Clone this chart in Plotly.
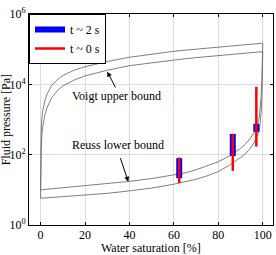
import plotly.graph_objects as go

# ---- data ----
# Water saturation [%] samples for the bound curves
sat_upper = [0, 0.1, 0.3, 0.6, 1, 2, 3, 5, 8, 10, 15, 20, 30, 40, 50, 60, 70, 80, 90, 100]
# log10(Fluid pressure [Pa]) along the two Voigt (upper) curves
voigt_a_log = [1.0, 2.2, 2.7, 3.05, 3.25, 3.55, 3.73, 3.97, 4.16, 4.25, 4.4, 4.5, 4.65, 4.77, 4.86, 4.94, 5.0, 5.06, 5.12, 5.17]
voigt_b_log = [0.76, 1.7, 2.2, 2.55, 2.8, 3.15, 3.35, 3.62, 3.85, 3.95, 4.12, 4.24, 4.4, 4.53, 4.62, 4.69, 4.76, 4.82, 4.88, 4.93]

sat_lower = [0, 10, 20, 30, 40, 50, 60, 65, 70, 75, 80, 85, 88, 90, 92, 94, 96, 97, 98, 98.5, 99, 99.3, 99.6, 99.8, 100]
# log10(Fluid pressure [Pa]) along the two Reuss (lower) curves
reuss_a_log = [1.0, 1.06, 1.11, 1.17, 1.24, 1.32, 1.42, 1.48, 1.57, 1.68, 1.8, 1.96, 2.08, 2.18, 2.29, 2.43, 2.62, 2.76, 2.95, 3.1, 3.4, 3.7, 4.1, 4.55, 5.17]
reuss_b_log = [0.76, 0.8, 0.85, 0.9, 0.97, 1.05, 1.16, 1.22, 1.3, 1.4, 1.52, 1.7, 1.82, 1.92, 2.02, 2.15, 2.33, 2.45, 2.6, 2.72, 2.95, 3.2, 3.6, 4.05, 4.93]

# measured pressure ranges (log10 Pa) at three saturations
meas_sat = [62.4, 86.5, 97.1]
t2_low_log = [1.33, 1.96, 2.65]
t2_high_log = [1.90, 2.59, 2.88]
t0_low_log = [1.19, 1.54, 2.23]
t0_high_log = [1.92, 2.59, 3.93]

x_ticks = [0, 20, 40, 60, 80, 100]
y_tick_exp = [0, 2, 4, 6]

FONT = "Liberation Serif, Times New Roman, serif"
CURVE = "#707070"

def to_pa(logs):
    return [10 ** v for v in logs]

def segments(xs, lows, highs):
    X, Y = [], []
    for x, lo, hi in zip(xs, lows, highs):
        X += [x, x, None]
        Y += [10 ** lo, 10 ** hi, None]
    return X, Y

fig = go.Figure()
for xs, ys in [(sat_upper, voigt_a_log), (sat_upper, voigt_b_log),
               (sat_lower, reuss_a_log), (sat_lower, reuss_b_log)]:
    fig.add_trace(go.Scatter(x=xs, y=to_pa(ys), mode="lines",
                             line=dict(color=CURVE, width=0.9), showlegend=False,
                             hoverinfo="skip"))

bx, by = segments(meas_sat, t2_low_log, t2_high_log)
fig.add_trace(go.Scatter(x=bx, y=by, mode="lines", name="t ~ 2 s",
                         line=dict(color="#0000ff", width=6)))
rx, ry = segments(meas_sat, t0_low_log, t0_high_log)
fig.add_trace(go.Scatter(x=rx, y=ry, mode="lines", name="t ~ 0 s",
                         line=dict(color="#ff0000", width=2.5)))

axis_common = dict(showline=True, linecolor="black", linewidth=1, mirror="ticks",
                   ticks="inside", ticklen=3, tickcolor="black",
                   showgrid=True, gridcolor="#dcdcdc", gridwidth=1, zeroline=False,
                   tickfont=dict(family=FONT, size=12, color="black"))

fig.update_xaxes(range=[-5.2, 104.6], tickvals=x_ticks, ticklabelstandoff=-1,
                 **axis_common)
fig.update_yaxes(type="log", range=[0, 6],
                 tickvals=[10 ** e for e in y_tick_exp],
                 ticktext=["10<sup>%d</sup>" % e for e in y_tick_exp],
                 **axis_common)

ann = []
ann.append(dict(x=13.2, y=3.67, xref="x", yref="y", text="Voigt upper bound",
                showarrow=False, xanchor="left", yanchor="middle",
                font=dict(family=FONT, size=12, color="black")))
ann.append(dict(x=13.2, y=2.27, xref="x", yref="y", text="Reuss lower bound",
                showarrow=False, xanchor="left", yanchor="middle",
                font=dict(family=FONT, size=12, color="black")))
ann.append(dict(x=30.0, y=4.36, xref="x", yref="y", ax=34.1, ay=3.87,
                axref="x", ayref="y", text="", showarrow=True,
                arrowhead=2, arrowsize=1, arrowwidth=1, arrowcolor="black"))
ann.append(dict(x=39.5, y=1.23, xref="x", yref="y", ax=35.7, ay=1.94,
                axref="x", ayref="y", text="", showarrow=True,
                arrowhead=2, arrowsize=1, arrowwidth=1, arrowcolor="black"))
ann.append(dict(x=0.5, y=0, xref="paper", yref="paper", yshift=-23,
                text="Water saturation [%]", showarrow=False,
                xanchor="center", yanchor="middle",
                font=dict(family=FONT, size=12, color="black")))
ann.append(dict(x=-0.095, y=0.5, xref="paper", yref="paper",
                text="Fluid pressure [Pa]", showarrow=False, textangle=-90,
                xanchor="center", yanchor="middle",
                font=dict(family=FONT, size=12, color="black")))

fig.update_layout(
    width=276, height=255,
    margin=dict(l=29, r=3, t=14, b=30),
    paper_bgcolor="white", plot_bgcolor="white",
    annotations=ann,
    legend=dict(x=0, y=1, xanchor="left", yanchor="top",
                bgcolor="white", bordercolor="black", borderwidth=1,
                font=dict(family=FONT, size=12, color="black"),
                itemwidth=30, tracegroupgap=0),
    font=dict(family=FONT, size=12, color="black"),
)

fig.write_html("out.html")
